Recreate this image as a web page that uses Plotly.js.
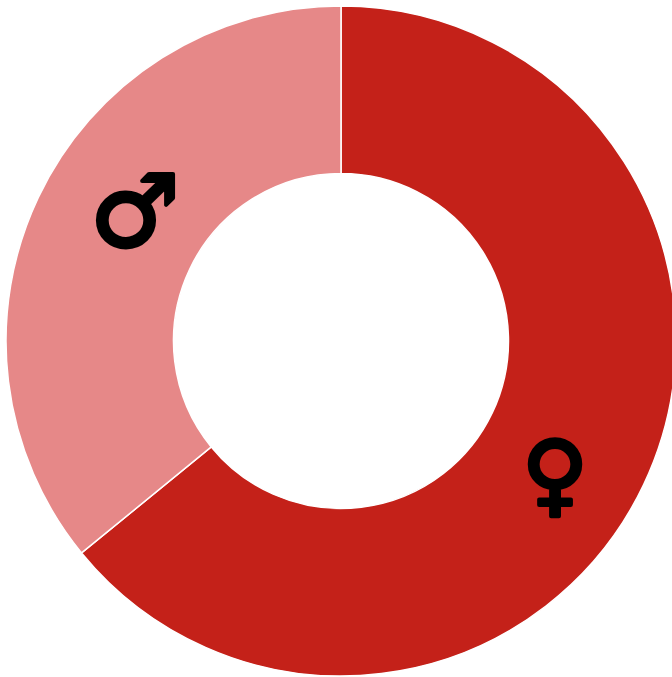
<!DOCTYPE html>
<html><head><meta charset="utf-8"><script src="https://cdn.plot.ly/plotly-3.0.0.min.js"></script>
<style>html,body{margin:0;padding:0;background:#fff;overflow:hidden}
#c{width:672px;height:677px;overflow:hidden}
.annotation-text{stroke:#000;stroke-width:4px;stroke-linejoin:round;paint-order:stroke}</style></head><body><div id="c"></div>
<script>
const categories = ['♀','♂'];
const values = [64.1,35.9];
const colors = ['#c42119','#e68888'];
const labelX = [555,135];
const labelY = [473,211];
const labelSizes = [90,100];
const W=680,H=680,L=6,R=4,T=6,B=4,PW=W-L-R,PH=H-T-B;
Plotly.newPlot('c',[{type:'pie',hole:0.5,labels:categories,values:values,sort:false,direction:'clockwise',rotation:0,
 marker:{colors:colors,line:{color:'#ffffff',width:1.5}},textinfo:'none',hoverinfo:'label+percent',showlegend:false,
 domain:{x:[0,1],y:[0,1]}}],
 {width:W,height:H,margin:{l:L,r:R,t:T,b:B,autoexpand:false},paper_bgcolor:'#fff',showlegend:false,
 annotations:categories.map((c,i)=>({text:c,xref:'paper',yref:'paper',x:(labelX[i]-L)/PW,y:1-(labelY[i]-T)/PH,xanchor:'center',yanchor:'middle',showarrow:false,
   font:{family:'DejaVu Sans',size:labelSizes[i],color:'#000'}}))},{displayModeBar:false});
</script></body></html>
